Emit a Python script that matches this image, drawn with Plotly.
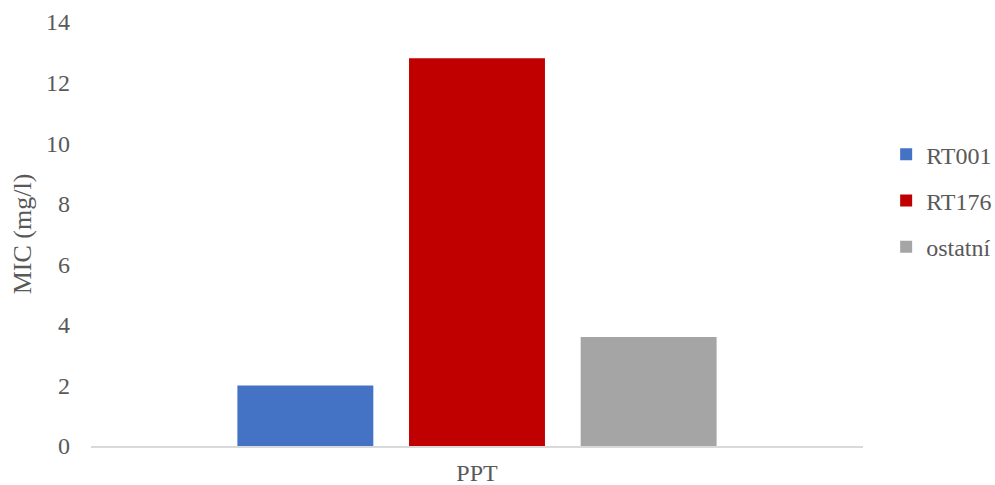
import plotly.graph_objects as go

categories = ["PPT"]
series_names = ["RT001", "RT176", "ostatní"]
series_values = [[2.0], [12.8], [3.6]]
series_colors = ["#4472C4", "#C00000", "#A5A5A5"]
y_ticks = [0, 2, 4, 6, 8, 10, 12, 14]

FONT = "Liberation Serif"
TEXT = "#595959"

fig = go.Figure()
for name, vals, col in zip(series_names, series_values, series_colors):
    fig.add_trace(go.Bar(
        x=categories, y=vals, name=name, legendgroup=name,
        marker=dict(color=col, line=dict(width=0)),
    ))

fig.update_layout(
    width=995, height=485,
    margin=dict(l=91, r=132, t=22, b=39, autoexpand=False),
    paper_bgcolor="white", plot_bgcolor="white",
    barmode="group", bargap=0.333, bargroupgap=0.208,
    font=dict(family=FONT, color=TEXT, size=24),
    showlegend=True,
    legend=dict(
        x=1.03, xanchor="left", y=0.74, yanchor="top",
        font=dict(family=FONT, color=TEXT, size=24),
        tracegroupgap=12, bgcolor="rgba(0,0,0,0)",
    ),
)
fig.update_xaxes(
    showline=True, linecolor="#D9D9D9", linewidth=1.5,
    showgrid=False, ticks="", ticklabelstandoff=4,
    tickfont=dict(family=FONT, size=24, color=TEXT),
)
fig.update_yaxes(
    range=[0, 14], tickvals=y_ticks, showgrid=False, zeroline=False,
    showline=False, ticks="", ticklabelstandoff=20,
    tickfont=dict(family=FONT, size=24, color=TEXT),
    title=dict(text="MIC (mg/l)", font=dict(family=FONT, size=26, color=TEXT), standoff=6),
)

fig.write_html("out.html")
